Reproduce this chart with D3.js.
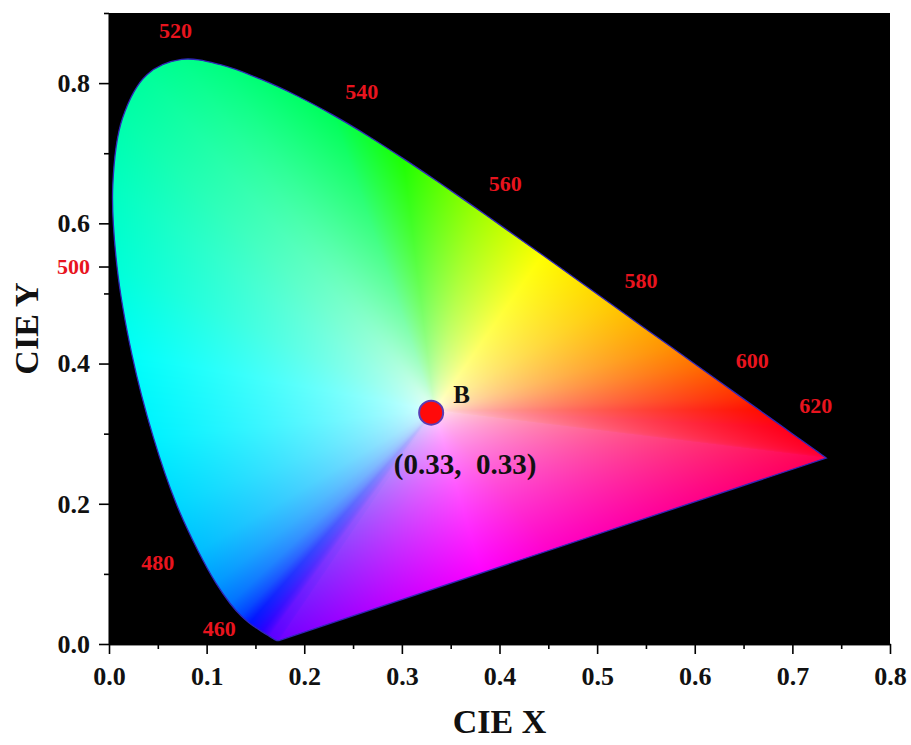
<!DOCTYPE html>
<html><head><meta charset="utf-8">
<script src="https://cdn.jsdelivr.net/npm/d3@7"></script>
<style>body{margin:0;background:#fff}</style>
</head><body>
<svg id="chart" width="911" height="745"></svg>
<script>
// ---- data ----
const wavelengths = [380,385,390,395,400,405,410,415,420,425,430,435,440,445,450,455,460,465,470,475,480,485,490,495,500,505,510,515,520,525,530,535,540,545,550,555,560,565,570,575,580,585,590,595,600,605,610,615,620,625,630,635,640,645,650,655,660,665,670,675,680,685,690,695,700];
const locusX = [0.1741,0.1740,0.1738,0.1736,0.1733,0.1730,0.1726,0.1721,0.1714,0.1703,0.1689,0.1669,0.1644,0.1611,0.1566,0.1510,0.1440,0.1355,0.1241,0.1096,0.0913,0.0687,0.0454,0.0235,0.0082,0.0039,0.0139,0.0389,0.0743,0.1142,0.1547,0.1929,0.2296,0.2658,0.3016,0.3373,0.3731,0.4087,0.4441,0.4788,0.5125,0.5448,0.5752,0.6029,0.6270,0.6482,0.6658,0.6801,0.6915,0.7006,0.7079,0.7140,0.7190,0.7230,0.7260,0.7283,0.7300,0.7311,0.7320,0.7327,0.7334,0.7340,0.7344,0.7346,0.7347];
const locusY = [0.0050,0.0050,0.0049,0.0049,0.0048,0.0048,0.0048,0.0048,0.0051,0.0058,0.0069,0.0086,0.0109,0.0138,0.0177,0.0227,0.0297,0.0399,0.0578,0.0868,0.1327,0.2007,0.2950,0.4127,0.5384,0.6548,0.7502,0.8120,0.8338,0.8262,0.8059,0.7816,0.7543,0.7243,0.6923,0.6589,0.6245,0.5896,0.5547,0.5202,0.4866,0.4544,0.4242,0.3965,0.3725,0.3514,0.3340,0.3197,0.3083,0.2993,0.2920,0.2859,0.2809,0.2770,0.2740,0.2717,0.2700,0.2689,0.2680,0.2673,0.2666,0.2660,0.2656,0.2654,0.2653];

const waveLabels = ["520","540","560","580","600","620","480","460"];
const waveLabelX = [0.068,0.259,0.406,0.545,0.659,0.724,0.050,0.113];
const waveLabelY = [0.876,0.788,0.657,0.519,0.404,0.341,0.116,0.022];

const xMajorTicks = [0,0.1,0.2,0.3,0.4,0.5,0.6,0.7,0.8];
const xMinorTicks = [0.05,0.15,0.25,0.35,0.45,0.55,0.65,0.75];
const yMajorTicks = [0,0.2,0.4,0.6,0.8];
const yMinorTicks = [0.1,0.3,0.5,0.7,0.9];
const markerTickLabel = "500";
const markerTickY = 0.5384;

const pointName = "B";
const pointX = 0.33, pointY = 0.33;
const pointText = "(0.33,  0.33)";
const whitePoint = [1/3, 1/3];

// colour keys along boundary
const keyWl  = [380,440,450,460,470,480,490,495,500,510,520,540,550,560,570,580,590,600,610,620,700];
const keyCol = [[110,0,255],[90,0,255],[40,0,255],[0,20,255],[0,115,255],[0,190,255],[0,242,255],[0,255,250],[0,255,215],[0,255,170],[0,255,140],[0,255,90],[30,255,0],[150,255,0],[255,255,0],[255,205,0],[255,145,0],[255,75,0],[255,15,0],[255,0,25],[255,0,80]];
const purpleFrac = [0.25,0.5,0.63,0.8];
const purpleCol  = [[255,0,140],[255,0,200],[255,0,255],[190,0,255]];

// ---- scales ----
const svg = d3.select("#chart");
const x = d3.scaleLinear().domain([0,0.8]).range([109,890]);
const y = d3.scaleLinear().domain([0,0.9]).range([644,13]);
const serif = "'Liberation Serif','Times New Roman',serif";

svg.append("rect").attr("x",x(0)).attr("y",y(0.9)).attr("width",x(0.8)-x(0)).attr("height",y(0)-y(0.9)).attr("fill","#000");

// boundary vertices with colours
function wlColor(w){
  for(let i=0;i<keyWl.length-1;i++){
    if(w>=keyWl[i] && w<=keyWl[i+1]){
      const f=(w-keyWl[i])/(keyWl[i+1]-keyWl[i]);
      return keyCol[i].map((c,k)=>c+(keyCol[i+1][k]-c)*f);
    }
  }
  return keyCol[keyCol.length-1];
}
const verts = wavelengths.map((w,i)=>({x:locusX[i],y:locusY[i],c:wlColor(w)}));
const last = verts[verts.length-1], first = verts[0];
purpleFrac.forEach((f,i)=>verts.push({x:last.x+(first.x-last.x)*f,y:last.y+(first.y-last.y)*f,c:purpleCol[i]}));
const n = verts.length;

// angle bins -> segment index
const Wx = whitePoint[0], Wy = whitePoint[1];
const NB = 7200, bins = new Int32Array(NB);
function cross(ax,ay,bx,by){return ax*by-ay*bx;}
for(let k=0;k<NB;k++){
  const a = -Math.PI + (k+0.5)*2*Math.PI/NB;
  const dx=Math.cos(a), dy=Math.sin(a);
  let best=0;
  for(let s=0;s<n;s++){
    const A=verts[s],B=verts[(s+1)%n];
    const ex=B.x-A.x, ey=B.y-A.y;
    const den=cross(dx,dy,ex,ey);
    if(Math.abs(den)<1e-12) continue;
    const u=cross(A.x-Wx,A.y-Wy,ex,ey)/den;
    const ss=cross(A.x-Wx,A.y-Wy,dx,dy)/den;
    if(u>0 && ss>=-1e-9 && ss<=1+1e-9){best=s;break;}
  }
  bins[k]=best;
}

// render fill on canvas
const x0 = Math.floor(x(0)), y0 = Math.floor(y(0.9));
const W = Math.ceil(x(0.8))-x0, H = Math.ceil(y(0))-y0;
const canvas = document.createElement("canvas");
canvas.width=W; canvas.height=H;
const ctx = canvas.getContext("2d");
const img = ctx.createImageData(W,H);
for(let j=0;j<H;j++){
  const py = y.invert(y0+j+0.5);
  for(let i=0;i<W;i++){
    const px = x.invert(x0+i+0.5);
    const dx=px-Wx, dy=py-Wy;
    const a=Math.atan2(dy,dx);
    let k=Math.floor((a+Math.PI)/(2*Math.PI)*NB); if(k>=NB)k=NB-1; if(k<0)k=0;
    const s=bins[k];
    const A=verts[s],B=verts[(s+1)%n];
    const ex=B.x-A.x, ey=B.y-A.y;
    const den=cross(dx,dy,ex,ey);
    let t=0, ss=0;
    if(Math.abs(den)>1e-14){
      const u=cross(A.x-Wx,A.y-Wy,ex,ey)/den;
      ss=cross(A.x-Wx,A.y-Wy,dx,dy)/den;
      t = u>0 ? 1/u : 1;
    }
    ss=Math.max(0,Math.min(1,ss)); t=Math.max(0,Math.min(1,t));
    const tt=Math.pow(t,0.55);
    const o=(j*W+i)*4;
    for(let c=0;c<3;c++){
      const bc=A.c[c]+(B.c[c]-A.c[c])*ss;
      img.data[o+c]=Math.round(255+(bc-255)*tt);
    }
    img.data[o+3]=255;
  }
}
ctx.putImageData(img,0,0);

const line = d3.line().x(d=>x(d.x)).y(d=>y(d.y)).curve(d3.curveCatmullRom.alpha(0.5));
const locusPts = wavelengths.map((w,i)=>({x:locusX[i],y:locusY[i]}));
const locusPath = line(locusPts)+"Z";
svg.append("clipPath").attr("id","locusClip").append("path").attr("d",locusPath);
svg.append("image").attr("href",canvas.toDataURL()).attr("x",x0).attr("y",y0).attr("width",W).attr("height",H)
  .attr("clip-path","url(#locusClip)");
svg.append("path").attr("d",locusPath).attr("fill","none").attr("stroke","#3026b8").attr("stroke-width",1.3);

// axes
const xAxis = svg.append("g").attr("transform",`translate(0,${y(0)})`)
  .call(d3.axisBottom(x).tickValues(xMajorTicks).tickFormat(d3.format(".1f")).tickSize(10).tickPadding(13).tickSizeOuter(0));
svg.append("g").attr("transform",`translate(0,${y(0)})`)
  .call(d3.axisBottom(x).tickValues(xMinorTicks).tickFormat("").tickSize(5).tickSizeOuter(0));
const yAxis = svg.append("g").attr("transform",`translate(${x(0)},0)`)
  .call(d3.axisLeft(y).tickValues(yMajorTicks).tickFormat(d3.format(".1f")).tickSize(10).tickPadding(9).tickSizeOuter(0));
svg.append("g").attr("transform",`translate(${x(0)},0)`)
  .call(d3.axisLeft(y).tickValues(yMinorTicks).tickFormat("").tickSize(5).tickSizeOuter(0));
const mAxis = svg.append("g").attr("transform",`translate(${x(0)},0)`)
  .call(d3.axisLeft(y).tickValues([markerTickY]).tickFormat(()=>markerTickLabel).tickSize(10).tickPadding(9).tickSizeOuter(0));
mAxis.select(".domain").remove();
mAxis.selectAll("text").attr("fill","#e8141e").style("font-size","22px");
svg.selectAll(".domain").attr("stroke","#000").attr("stroke-width",1.6);
svg.selectAll(".tick line").attr("stroke","#000").attr("stroke-width",1.6);
svg.selectAll(".tick text").style("font-family",serif).style("font-weight","bold");
xAxis.selectAll("text").attr("fill","#111").style("font-size","26px");
yAxis.selectAll("text").attr("fill","#111").style("font-size","26px");

// axis titles
svg.append("text").attr("x",(x(0)+x(0.8))/2).attr("y",733).attr("text-anchor","middle")
  .style("font-family",serif).style("font-weight","bold").style("font-size","34px").attr("fill","#111").text("CIE X");
svg.append("text").attr("transform",`translate(38,${(y(0)+y(0.9))/2}) rotate(-90)`).attr("text-anchor","middle")
  .style("font-family",serif).style("font-weight","bold").style("font-size","34px").attr("fill","#111").text("CIE Y");

// wavelength labels
svg.append("g").selectAll("text").data(waveLabels).join("text")
  .attr("x",(d,i)=>x(waveLabelX[i])).attr("y",(d,i)=>y(waveLabelY[i])).attr("dy","0.35em")
  .attr("text-anchor","middle").attr("fill","#e8141e")
  .style("font-family",serif).style("font-weight","bold").style("font-size","22px").text(d=>d);

// point B
svg.append("circle").attr("cx",x(pointX)).attr("cy",y(pointY)).attr("r",12)
  .attr("fill","#ff0a0a").attr("stroke","#5a3cb4").attr("stroke-width",2);
svg.append("text").attr("x",x(pointX)+22).attr("y",y(pointY)-10)
  .style("font-family",serif).style("font-weight","bold").style("font-size","25px").attr("fill","#111").text(pointName);
svg.append("text").attr("x",x(pointX)+34).attr("y",y(pointY)+61).attr("text-anchor","middle")
  .style("font-family",serif).style("font-weight","bold").style("font-size","29px").style("white-space","pre").attr("fill","#111").text(pointText);
</script>
</body></html>
